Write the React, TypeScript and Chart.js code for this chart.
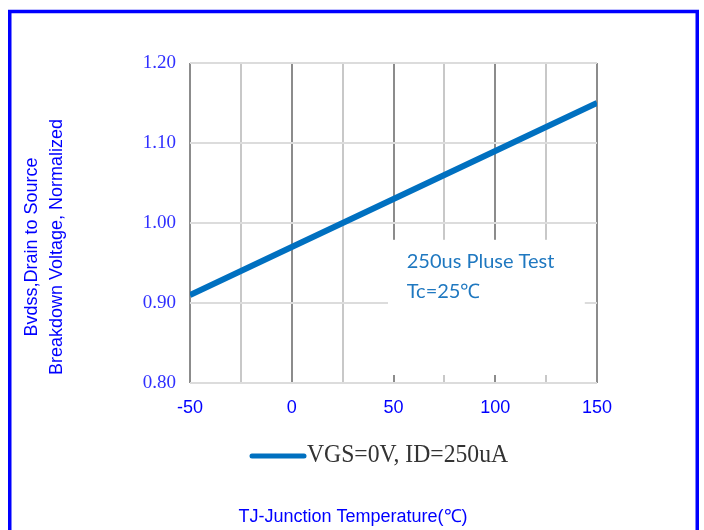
import React, { useEffect, useRef } from "react";
import { Chart, registerables } from "chart.js";

Chart.register(...registerables);

const temperatures = [-50, 0, 50, 100, 150];
const bvdssNormalized = [0.91, 0.97, 1.03, 1.09, 1.15];
const xTickValues = [-50, 0, 50, 100, 150];
const yTickLabels = ["0.80", "0.90", "1.00", "1.10", "1.20"];
const seriesLabel = "VGS=0V, ID=250uA";
const noteLines = ["250us Pluse Test", "Tc=25℃"];
const xTitle = "TJ-Junction Temperature(℃)";
const yTitleLines = ["Bvdss,Drain to Source", "Breakdown Voltage, Normalized"];

const LINE_COLOR = "#0070C0";
const BLUE = "#0000FF";

const decorPlugin = {
  id: "decor",
  beforeDatasetsDraw(chart: any) {
    const { ctx, scales } = chart;
    const x = scales.x;
    const y = scales.y;
    ctx.save();
    ctx.fillStyle = "#ffffff";
    const l = x.getPixelForValue(47.3);
    const r = x.getPixelForValue(144);
    const t = y.getPixelForValue(0.979);
    const b = y.getPixelForValue(0.81);
    ctx.fillRect(l, t, r - l, b - t);
    ctx.restore();
  },
  afterDraw(chart: any) {
    const { ctx, scales } = chart;
    const x = scales.x;
    const y = scales.y;
    ctx.save();
    // annotation text
    ctx.fillStyle = "#1F78C0";
    ctx.font = "20px Lato";
    ctx.textAlign = "left";
    ctx.textBaseline = "middle";
    const nx = x.getPixelForValue(56.5);
    ctx.fillText(noteLines[0], nx, y.getPixelForValue(0.952));
    ctx.fillText(noteLines[1], nx, y.getPixelForValue(0.914));

    // legend
    ctx.strokeStyle = LINE_COLOR;
    ctx.lineWidth = 5;
    ctx.lineCap = "round";
    ctx.beginPath();
    ctx.moveTo(252, 456);
    ctx.lineTo(304, 456);
    ctx.stroke();
    ctx.save();
    ctx.fillStyle = "#333333";
    ctx.font = "26px 'Liberation Serif'";
    ctx.translate(307, 455);
    ctx.scale(0.91, 1);
    ctx.fillText(seriesLabel, 0, 0);
    ctx.restore();

    // x title
    ctx.fillStyle = BLUE;
    ctx.font = "18px 'Liberation Sans'";
    ctx.textAlign = "center";
    ctx.fillText(xTitle, 353, 517);

    // y title
    ctx.save();
    ctx.translate(32, 247);
    ctx.rotate(-Math.PI / 2);
    ctx.fillText(yTitleLines[0], 0, 0);
    ctx.restore();
    ctx.save();
    ctx.translate(57, 247);
    ctx.rotate(-Math.PI / 2);
    ctx.fillText(yTitleLines[1], 0, 0);
    ctx.restore();

    // frame
    ctx.strokeStyle = BLUE;
    ctx.lineWidth = 3.5;
    ctx.lineCap = "butt";
    ctx.strokeRect(9.75, 11.5, 687.5, 600);
    ctx.restore();
  },
};

export default function App() {
  const ref = useRef<HTMLCanvasElement | null>(null);

  useEffect(() => {
    if (!ref.current) return;
    const chart = new Chart(ref.current, {
      type: "line",
      data: {
        datasets: [
          {
            label: seriesLabel,
            data: temperatures.map((t, i) => ({ x: t, y: bvdssNormalized[i] })),
            borderColor: LINE_COLOR,
            backgroundColor: LINE_COLOR,
            borderWidth: 6,
            pointRadius: 0,
            tension: 0,
          },
        ],
      },
      options: {
        responsive: false,
        animation: false,
        layout: { padding: { left: 0, right: 107, top: 63, bottom: 107 } },
        plugins: {
          legend: { display: false },
          tooltip: { enabled: false },
        },
        scales: {
          x: {
            type: "linear",
            min: -50,
            max: 150,
            afterFit: (s: any) => {
              s.height = 40;
            },
            ticks: {
              stepSize: 25,
              padding: 14,
              color: BLUE,
              font: { family: "'Liberation Sans'", size: 18 },
              callback: (v: any) => (xTickValues.includes(Number(v)) ? String(v) : ""),
            },
            grid: {
              drawTicks: false,
              lineWidth: 2,
              color: (c: any) =>
                c.tick && Math.abs(c.tick.value) % 50 === 0 ? "#8C8C8C" : "#C8C8C8",
            },
            border: { display: false },
          },
          y: {
            type: "linear",
            min: 0.8,
            max: 1.2,
            afterFit: (s: any) => {
              s.width = 190;
            },
            ticks: {
              stepSize: 0.1,
              padding: 14,
              color: "#3030FF",
              font: { family: "'Liberation Serif'", size: 19 },
              callback: (v: any) => {
                const idx = Math.round((Number(v) - 0.8) / 0.1);
                return yTickLabels[idx] ?? "";
              },
            },
            grid: {
              drawTicks: false,
              lineWidth: 2,
              color: "#DCDCDC",
            },
            border: { display: false },
          },
        },
      },
      plugins: [decorPlugin],
    });
    return () => chart.destroy();
  }, []);

  return (
    <div style={{ position: "fixed", left: 0, top: 0, width: 704, height: 530, background: "#fff" }}>
      <canvas ref={ref} width={704} height={530} />
    </div>
  );
}
